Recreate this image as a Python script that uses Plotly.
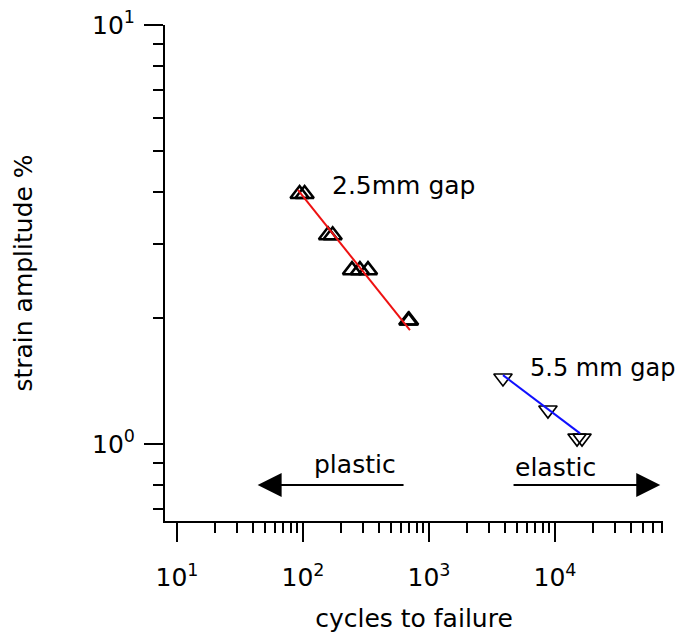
import plotly.graph_objects as go
import math

# ---- data ----
gap25_cycles = [94, 103, 158, 172, 245, 283, 328, 685, 695]
gap25_strain = [3.95, 3.95, 3.15, 3.15, 2.60, 2.60, 2.60, 1.97, 1.97]
gap25_fit_cycles = [91, 706]
gap25_fit_strain = [4.04, 1.87]

gap55_cycles = [3865, 8790, 14960, 16380]
gap55_strain = [1.437, 1.205, 1.033, 1.033]
gap55_fit_cycles = [3865, 15800]
gap55_fit_strain = [1.46, 1.06]

x_major = [10, 100, 1000, 10000]
x_major_text = ["10<sup>1</sup>", "10<sup>2</sup>", "10<sup>3</sup>", "10<sup>4</sup>"]
x_minor = [m * d for d in (10, 100, 1000) for m in range(2, 10)] + [m * 10000 for m in range(2, 8)]
y_major = [1, 10]
y_major_text = ["10<sup>0</sup>", "10<sup>1</sup>"]
y_minor = [0.7, 0.8, 0.9] + list(range(2, 10))

FONT = "DejaVu Sans"
FS = 25

fig = go.Figure()
fig.add_trace(go.Scatter(x=gap25_cycles, y=gap25_strain, mode="markers",
                         marker=dict(symbol="triangle-up-open", size=16, color="black",
                                     line=dict(color="black", width=2.5)),
                         showlegend=False))
fig.add_trace(go.Scatter(x=gap25_fit_cycles, y=gap25_fit_strain, mode="lines",
                         line=dict(color="#ee1111", width=2), showlegend=False))
fig.add_trace(go.Scatter(x=gap55_cycles, y=gap55_strain, mode="markers",
                         marker=dict(symbol="triangle-down-open", size=16, color="black",
                                     line=dict(color="black", width=1.6)),
                         showlegend=False))
fig.add_trace(go.Scatter(x=gap55_fit_cycles, y=gap55_fit_strain, mode="lines",
                         line=dict(color="#1010ff", width=2), showlegend=False))

axis_common = dict(type="log", showline=True, linewidth=2, linecolor="black",
                   ticks="outside", ticklen=19, tickwidth=2, tickcolor="black",
                   showgrid=False, zeroline=False, mirror=False, automargin=False,
                   ticklabeloverflow="allow",
                   tickfont=dict(family=FONT, size=FS, color="black"))

fig.update_xaxes(**axis_common, range=[0.905, 4.857], tickmode="array",
                 tickvals=x_major, ticktext=x_major_text, ticklabelstandoff=14,
                 minor=dict(ticks="outside", ticklen=10, tickwidth=2, tickcolor="black",
                            tickmode="array", tickvals=x_minor, showgrid=False),
                 title=dict(text="cycles to failure", font=dict(family=FONT, size=FS, color="black"),
                            standoff=18))
fig.update_yaxes(**axis_common, range=[math.log10(0.655), 1.0], tickmode="array",
                 tickvals=y_major, ticktext=y_major_text, ticklabelstandoff=4,
                 minor=dict(ticks="outside", ticklen=10, tickwidth=2, tickcolor="black",
                            tickmode="array", tickvals=y_minor, showgrid=False),
                 title=dict(text="strain amplitude %", font=dict(family=FONT, size=FS, color="black"),
                            standoff=52))

tf = dict(family=FONT, size=FS, color="black")
fig.add_annotation(x=math.log10(164), y=math.log10(4.15), text="2.5mm gap", showarrow=False,
                   xanchor="left", yanchor="middle", font=tf)
fig.add_annotation(x=math.log10(6100), y=math.log10(1.52), text="5.5 mm gap", showarrow=False,
                   xanchor="left", yanchor="middle", font=dict(family=FONT, size=24, color="black"))
fig.add_annotation(x=2.413, y=-0.05, text="plastic", showarrow=False,
                   xanchor="center", yanchor="middle", font=tf)
fig.add_annotation(x=4.0, y=-0.055, text="elastic", showarrow=False,
                   xanchor="center", yanchor="middle", font=tf)
# arrows
fig.add_annotation(x=1.64, y=-0.098, ax=2.81, ay=-0.098, xref="x", yref="y", axref="x", ayref="y",
                   text="", showarrow=True, arrowhead=2, arrowsize=2.4, arrowwidth=2, arrowcolor="black")
fig.add_annotation(x=4.835, y=-0.098, ax=3.659, ay=-0.098, xref="x", yref="y", axref="x", ayref="y",
                   text="", showarrow=True, arrowhead=2, arrowsize=2.4, arrowwidth=2, arrowcolor="black")

# page body has an 8px default margin, so the figure is 8px smaller on each side
fig.update_layout(width=675, height=628, margin=dict(l=157, r=20, t=17, b=115),
                  plot_bgcolor="white", paper_bgcolor="white", showlegend=False)
fig.write_html("out.html")
